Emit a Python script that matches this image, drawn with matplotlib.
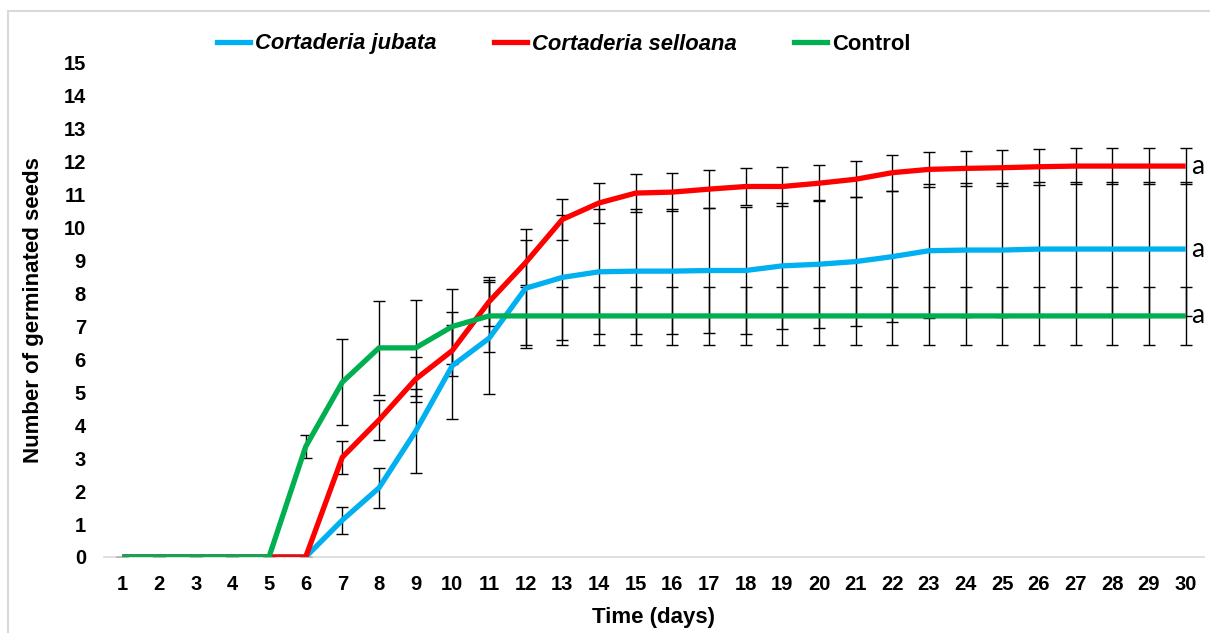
import matplotlib
matplotlib.use("Agg")
import matplotlib.pyplot as plt
from matplotlib.lines import Line2D
from matplotlib.patches import Rectangle

plt.rcParams['font.family'] = ['Liberation Sans', 'DejaVu Sans']

days = list(range(1, 31))

jubata = [0, 0, 0, 0, 0, 0, 1.12, 2.1, 3.82, 5.81, 6.64, 8.16, 8.49, 8.66, 8.68,
          8.68, 8.7, 8.7, 8.84, 8.89, 8.97, 9.12, 9.3, 9.32, 9.32, 9.35, 9.35, 9.35, 9.35, 9.35]
jubata_err = [0, 0, 0, 0, 0, 0, 0.41, 0.6, 1.27, 1.63, 1.7, 1.8, 1.9, 1.9, 1.9,
              1.9, 1.9, 1.93, 1.92, 1.94, 1.97, 1.99, 2.04, 2.04, 2.04, 2.04, 2.04, 2.04, 2.04, 2.04]

selloana = [0, 0, 0, 0, 0, 0, 3.03, 4.16, 5.4, 6.27, 7.75, 8.94, 10.25, 10.75, 11.05,
            11.08, 11.17, 11.25, 11.25, 11.35, 11.47, 11.67, 11.77, 11.8, 11.82, 11.85, 11.87, 11.87, 11.87, 11.87]
selloana_err = [0, 0, 0, 0, 0, 0, 0.5, 0.6, 0.68, 0.77, 0.74, 0.69, 0.62, 0.6, 0.58,
                0.58, 0.57, 0.55, 0.6, 0.55, 0.55, 0.55, 0.54, 0.54, 0.54, 0.54, 0.54, 0.54, 0.54, 0.54]

control = [0, 0, 0, 0, 0, 3.35, 5.31, 6.35, 6.35, 7.0, 7.32, 7.32, 7.32, 7.32, 7.32,
           7.32, 7.32, 7.32, 7.32, 7.32, 7.32, 7.32, 7.32, 7.32, 7.32, 7.32, 7.32, 7.32, 7.32, 7.32]
control_err = [0, 0, 0, 0, 0, 0.34, 1.31, 1.43, 1.45, 1.13, 1.09, 0.89, 0.89, 0.89, 0.89,
               0.89, 0.89, 0.89, 0.89, 0.89, 0.89, 0.89, 0.89, 0.89, 0.89, 0.89, 0.89, 0.89, 0.89, 0.89]

series_names = ["Cortaderia jubata", "Cortaderia selloana", "Control"]
letters = ["a", "a", "a"]
colors = ["#00B0F0", "#FF0000", "#00B050"]

fig = plt.figure(figsize=(12.10, 6.33), dpi=100)
ax = fig.add_axes([104/1210, 1 - 557/633, (1204 - 104)/1210, (557 - 63)/633])

# outer chart border
fig.patches.append(Rectangle((8/1210, -0.05), 1.1, 1 - 11/633 + 0.05, transform=fig.transFigure,
                             fill=False, edgecolor="#D9D9D9", linewidth=1.5, zorder=0))

data = [(jubata, jubata_err), (selloana, selloana_err), (control, control_err)]
for (vals, err), c in zip(data, colors):
    ax.errorbar(days, vals, yerr=err, fmt='none', ecolor='black', elinewidth=1.0,
                capsize=4, capthick=1.0, zorder=2)
for (vals, err), c in zip(data, colors):
    ax.plot(days, vals, color=c, linewidth=3.8, zorder=3, solid_capstyle='butt')

for (vals, err), letter in zip(data, letters):
    ax.text(30.16, vals[-1], letter, fontsize=19, family=['Lato', 'DejaVu Sans'],
            va='center', ha='left', clip_on=False)

ax.set_xlim(0.5, 30.5)
ax.set_ylim(0, 15)
ax.set_xticks(days)
ax.set_xticklabels([str(d) for d in days])
ax.set_yticks(range(0, 16))
ax.tick_params(axis='both', length=0, labelsize=14.5)
ax.tick_params(axis='x', pad=13)
ax.tick_params(axis='y', pad=13)
for lab in ax.get_xticklabels() + ax.get_yticklabels():
    lab.set_fontweight('bold')
for s in ['top', 'right', 'left']:
    ax.spines[s].set_visible(False)
ax.spines['bottom'].set_color('#D9D9D9')
ax.spines['bottom'].set_linewidth(1.2)

ax.set_xlabel("Time (days)", fontsize=16, fontweight='bold', labelpad=9)
ax.set_ylabel("Number of germinated seeds", fontsize=16, fontweight='bold', labelpad=14)

handles = [Line2D([0], [0], color=c, linewidth=3.8) for c in colors]
leg = fig.legend(handles, series_names, loc='center', bbox_to_anchor=(564/1210, 1 - 44/633),
                 ncol=3, frameon=False, fontsize=15.8, handlelength=1.5, handletextpad=0.25,
                 columnspacing=2.6)
for i, t in enumerate(leg.get_texts()):
    t.set_fontweight('bold')
    if i < 2:
        t.set_fontstyle('italic')

fig.savefig("out.png", dpi=100)
